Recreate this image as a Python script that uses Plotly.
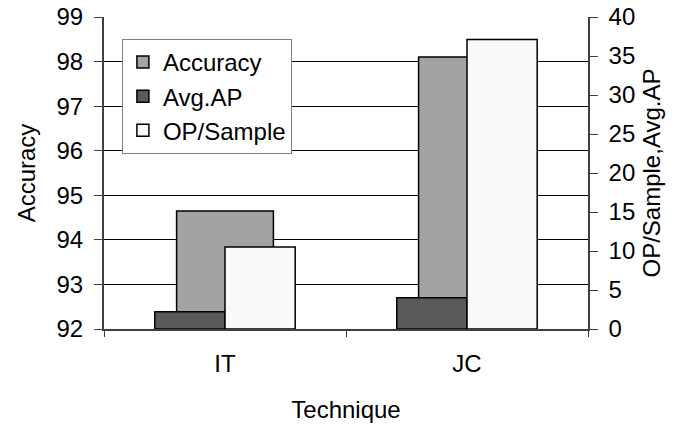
import plotly.graph_objects as go

categories = ["IT", "JC"]
accuracy = [94.65, 98.1]
avg_ap = [2.2, 4.0]
op_sample = [10.5, 37.1]

left_ticks = [92, 93, 94, 95, 96, 97, 98, 99]
right_ticks = [0, 5, 10, 15, 20, 25, 30, 35, 40]

FONT = "Liberation Sans, Arial, sans-serif"
FS = 24
line = dict(color="black", width=1.5)

fig = go.Figure()
fig.add_trace(go.Bar(x=categories, y=accuracy, name="Accuracy", yaxis="y",
                     marker=dict(color="#a3a3a3", line=line),
                     width=0.4, offset=-0.2))
fig.add_trace(go.Bar(x=categories, y=avg_ap, name="Avg.AP", yaxis="y2",
                     marker=dict(color="#5a5a5a", line=line),
                     width=0.29, offset=-0.29))
fig.add_trace(go.Bar(x=categories, y=op_sample, name="OP/Sample", yaxis="y2",
                     marker=dict(color="#f9f9f9", line=line),
                     width=0.29, offset=0.0))

fig.update_layout(
    width=689, height=427,
    margin=dict(l=104, r=101, t=17, b=98, autoexpand=False),
    paper_bgcolor="white", plot_bgcolor="white",
    barmode="overlay",
    font=dict(family=FONT, size=FS, color="black"),
    showlegend=True,
    legend=dict(x=0.037, y=0.93, xanchor="left", yanchor="top",
                bgcolor="white", bordercolor="#808080", borderwidth=1,
                font=dict(size=FS), traceorder="normal",
                tracegroupgap=0, itemwidth=30),
    xaxis=dict(type="category", range=[-0.5, 1.5], tickson="boundaries",
               automargin=False, ticklabeloverflow="allow",
               ticks="outside", ticklen=6, tickcolor="#404040",
               ticklabelstandoff=12,
               showline=True, linecolor="#404040", linewidth=1.5,
               showgrid=False,
               title=dict(text="Technique", standoff=26, font=dict(size=FS))),
    yaxis=dict(range=[92, 99], tickvals=left_ticks, ticks="outside", ticklen=8,
               automargin=False, ticklabeloverflow="allow",
               tickcolor="#404040", ticklabelstandoff=6,
               showline=True, linecolor="#404040", linewidth=2,
               showgrid=True, gridcolor="black", gridwidth=1,
               zeroline=False,
               title=dict(text="Accuracy", standoff=14, font=dict(size=FS))),
    yaxis2=dict(range=[0, 40], tickvals=right_ticks, overlaying="y", side="right",
                automargin=False, ticklabeloverflow="allow",
                ticks="outside", ticklen=8, tickcolor="#404040",
                ticklabelstandoff=6,
                showline=True, linecolor="#404040", linewidth=1.5,
                showgrid=False, zeroline=False,
                title=dict(text="OP/Sample,Avg.AP", standoff=9, font=dict(size=FS))),
)

fig.write_html("out.html", config={"displayModeBar": False},
               post_script="document.body.style.margin='0';")
